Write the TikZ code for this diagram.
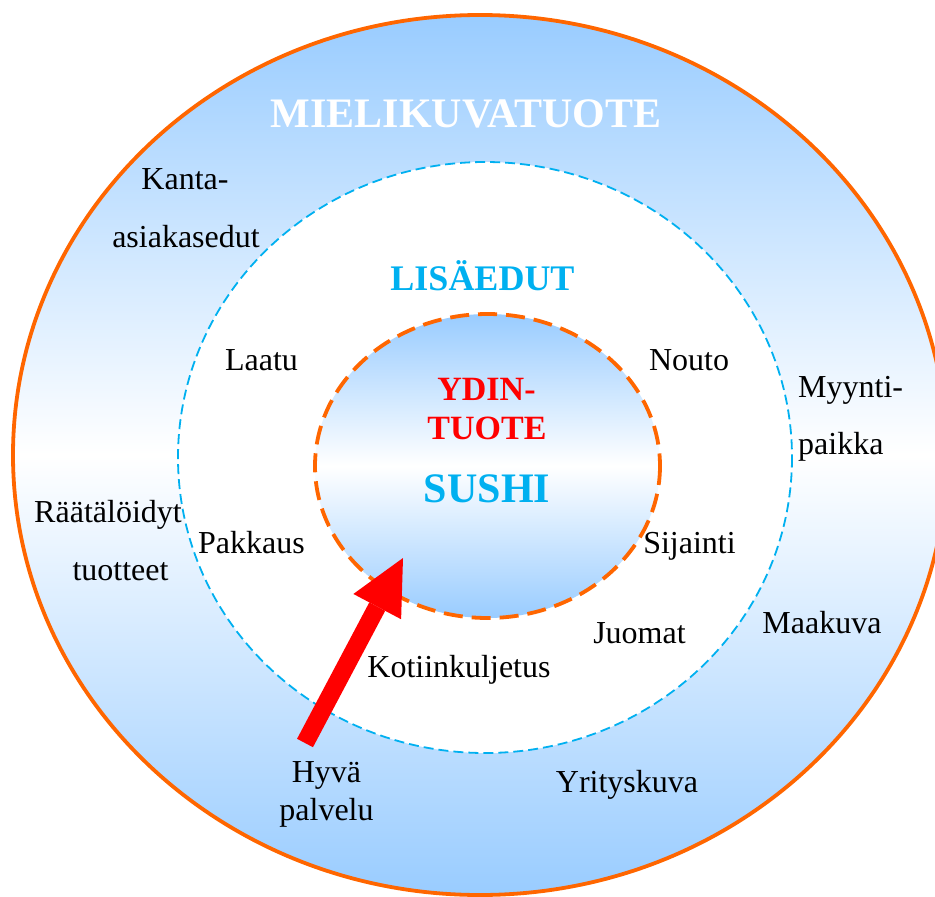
\documentclass[tikz,border=0pt]{standalone}
\usepackage{fontspec}
\setmainfont{Liberation Serif}
\usetikzlibrary{arrows.meta}
\definecolor{ringorange}{HTML}{FF6600}
\definecolor{skyblue}{HTML}{99CCFF}
\definecolor{lisacyan}{HTML}{00B0F0}
\definecolor{coreRed}{HTML}{FF0000}
\begin{document}
\begin{tikzpicture}[x=1pt,y=-1pt,
  word/.style={font=\fontsize{32}{38}\selectfont, inner sep=0pt, anchor=base},
  heading/.style={font=\fontsize{#1}{#1}\selectfont\bfseries, inner sep=0pt, anchor=base},
  bluefill/.style={top color=skyblue, bottom color=skyblue, middle color=white},
  outerring/.style={draw=ringorange, line width=3.8pt},
  middlering/.style={draw=lisacyan, line width=1.8pt, dash pattern=on 10pt off 5pt, fill=white},
  innerring/.style={draw=ringorange, line width=3.8pt, dash pattern=on 19pt off 9pt},
  bigarrow/.style={draw=coreRed, line width=18pt,
    -{Triangle[length=55pt,width=54pt,line width=0pt]}}]
\useasboundingbox (0,0) rectangle (935,897);

% outer ring: image product
\path[bluefill] (480,455) ellipse [x radius=467, y radius=440];
\path[outerring] (480,455) ellipse [x radius=467, y radius=440];

% middle ring: added benefits
\path[middlering] (485,457.5) ellipse [x radius=307, y radius=295.5];

% core product
\path[bluefill] (487.5,466) ellipse [x radius=172.5, y radius=152];
\path[innerring] (487.5,466) ellipse [x radius=172.5, y radius=152];

% headings
\node[heading=42, text=white] (mielikuva) at (466,127) {MIELIKUVATUOTE};
\node[heading=36, text=lisacyan] (lisaedut) at (482.5,290) {LISÄEDUT};
\node[heading=34, text=coreRed] (ydin) at (486.5,400) {YDIN-};
\node[heading=34, text=coreRed] (tuote) at (487,439) {TUOTE};
\node[heading=42, text=lisacyan] (sushi) at (487,502) {SUSHI};

% outer ring labels
\node[word] (kanta) at (185,189) {Kanta-};
\node[word] (asiakas) at (186,247) {asiakasedut};
\node[word, anchor=base west] (myynti) at (798,397) {Myynti-};
\node[word, anchor=base west] (paikka) at (798,454) {paikka};
\node[word] (raataloidyt) at (108,522) {Räätälöidyt};
\node[word] (tuotteet) at (120.5,580) {tuotteet};
\node[word] (maakuva) at (822,633) {Maakuva};
\node[word] (hyva) at (326.5,782) {Hyvä};
\node[word] (palvelu) at (326.5,820) {palvelu};
\node[word] (yrityskuva) at (627,792) {Yrityskuva};

% middle ring labels
\node[word] (laatu) at (261.5,370) {Laatu};
\node[word] (nouto) at (689,370) {Nouto};
\node[word] (pakkaus) at (251.5,553) {Pakkaus};
\node[word] (sijainti) at (689.5,553) {Sijainti};
\node[word] (juomat) at (639.5,643) {Juomat};
\node[word] (kotiin) at (459,677) {Kotiinkuljetus};

% service arrow into the core
\coordinate (arrowtail) at (305,743);
\coordinate (arrowtip) at (403,558);
\draw[bigarrow] (arrowtail) -- (arrowtip);
\end{tikzpicture}
\end{document}
